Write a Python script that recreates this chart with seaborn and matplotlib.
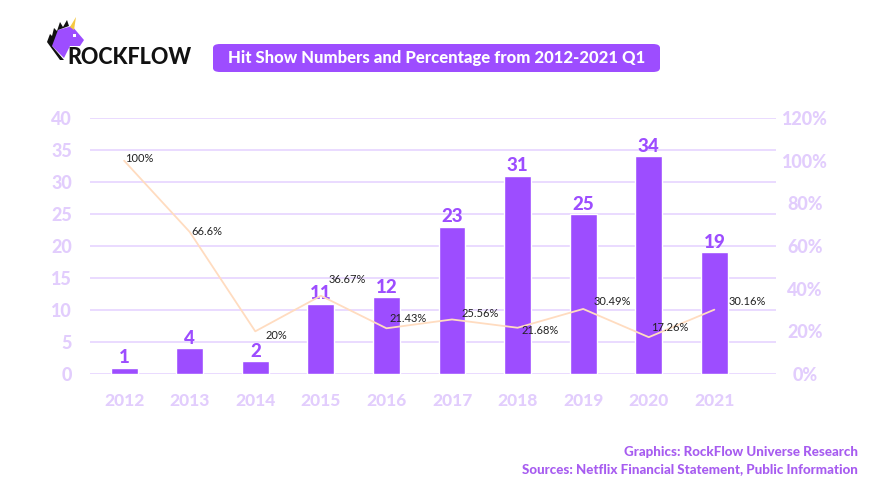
import matplotlib
matplotlib.use("Agg")
import matplotlib.pyplot as plt
from matplotlib.patches import FancyBboxPatch, Polygon
import seaborn as sns
import pandas as pd
import numpy as np

years = ["2012", "2013", "2014", "2015", "2016", "2017", "2018", "2019", "2020", "2021"]
hit_shows = [1, 4, 2, 11, 12, 23, 31, 25, 34, 19]
hit_pct = [100, 66.6, 20, 36.67, 21.43, 25.56, 21.68, 30.49, 17.26, 30.16]
pct_labels = ["100%", "66.6%", "20%", "36.67%", "21.43%", "25.56%", "21.68%", "30.49%", "17.26%", "30.16%"]
left_ticks = [0, 5, 10, 15, 20, 25, 30, 35, 40]
right_ticks = [0, 20, 40, 60, 80, 100, 120]

# label placement offsets (pixels) for the percentage annotations
pct_dx = [1, 2, 10, 8, 3, 9, 4, 10, 2, 14]
pct_dy = [2, 0, -4, 16, 10, 6, -3, 7, 10, 8]

PURPLE = "#9d4dff"
LIGHT = "#e2cdfd"
GRID = "#e6d4ff"
PEACH = "#ffdcc0"
FOOT = "#a75cf0"
HEAVY = 900

sns.set_theme(style="white")
plt.rcParams["font.family"] = ["Lato", "DejaVu Sans"]

df = pd.DataFrame({"year": years, "hits": hit_shows, "pct": hit_pct})

fig = plt.figure(figsize=(8.75, 4.93), dpi=100)
W, H = 875, 493
ax = fig.add_axes([90 / W, (H - 374) / H, (776 - 90) / W, (374 - 118) / H])

sns.barplot(data=df, x="year", y="hits", color=PURPLE, width=0.41, ax=ax,
            saturation=1, zorder=3)
ax.set_ylim(0, 40)
ax.set_xlim(-0.52, 9.94)
ax.set_yticks(left_ticks)
ax.yaxis.grid(True, color=GRID, linewidth=1.2, zorder=0)
ax.xaxis.grid(False)
for s in ax.spines.values():
    s.set_visible(False)
ax.set_xlabel("")
ax.set_ylabel("")
ax.tick_params(axis="y", length=0, pad=13, labelsize=13, labelcolor=LIGHT)
ax.tick_params(axis="x", length=0, pad=14, labelsize=12.5, labelcolor=LIGHT)
for lab in ax.get_yticklabels() + ax.get_xticklabels():
    lab.set_fontweight(HEAVY)

for i, v in enumerate(hit_shows):
    ax.annotate(str(v), (i, v), xytext=(0, 1), textcoords="offset points",
                ha="center", va="bottom", color=PURPLE, fontsize=13.5,
                fontweight=HEAVY, zorder=5)

ax2 = ax.twinx()
sns.lineplot(x=np.arange(len(years)), y=hit_pct, ax=ax2, color=PEACH,
             linewidth=1.3, zorder=4)
ax2.set_ylim(0, 120)
ax2.set_yticks(right_ticks)
ax2.set_yticklabels([f"{t}%" for t in right_ticks])
for s in ax2.spines.values():
    s.set_visible(False)
ax2.grid(False)
ax2.tick_params(axis="y", length=0, pad=21, labelsize=13, labelcolor=LIGHT)
for lab in ax2.get_yticklabels():
    lab.set_fontweight(HEAVY)
    lab.set_horizontalalignment("center")

for i, (v, t) in enumerate(zip(hit_pct, pct_labels)):
    ax2.annotate(t, (i, v), xytext=(pct_dx[i], pct_dy[i]), textcoords="offset pixels",
                 ha="left", va="center", fontsize=8, color="#222222", zorder=6)

# Title box
bx0, bx1, by0, by1 = 213, 660, 44, 72
box = FancyBboxPatch((bx0 / W, 1 - by1 / H), (bx1 - bx0) / W, (by1 - by0) / H,
                     boxstyle="round,pad=0,rounding_size=0.008",
                     transform=fig.transFigure, facecolor=PURPLE,
                     edgecolor="none")
fig.patches.append(box)
fig.text((bx0 + bx1) / 2 / W, 1 - 58 / H,
         "Hit Show Numbers and Percentage from 2012-2021 Q1",
         ha="center", va="center", color="white", fontsize=12,
         fontweight=HEAVY)

# Logo
fig.text(67 / W, 1 - 58 / H, "ROCKFLOW", ha="left", va="center",
         fontsize=15.5, fontweight=HEAVY, color="#111111")
head = Polygon([(58 / W, 1 - 30 / H), (72 / W, 1 - 26 / H), (84 / W, 1 - 40 / H),
                (80 / W, 1 - 46 / H), (70 / W, 1 - 46 / H), (64 / W, 1 - 58 / H),
                (50 / W, 1 - 44 / H)],
               closed=True, transform=fig.transFigure, facecolor=PURPLE,
               edgecolor="none")
fig.patches.append(head)
mane = Polygon([(47 / W, 1 - 42 / H), (50 / W, 1 - 34 / H), (52 / W, 1 - 36 / H),
                (54 / W, 1 - 28 / H), (57 / W, 1 - 31 / H), (60 / W, 1 - 22 / H),
                (63 / W, 1 - 27 / H), (67 / W, 1 - 20 / H), (69 / W, 1 - 26 / H),
                (58 / W, 1 - 30 / H), (52 / W, 1 - 46 / H), (64 / W, 1 - 60 / H),
                (60 / W, 1 - 60 / H)],
               closed=True, transform=fig.transFigure, facecolor="#111111",
               edgecolor="none")
fig.patches.append(mane)
horn = Polygon([(70 / W, 1 - 27 / H), (76 / W, 1 - 17 / H), (74 / W, 1 - 30 / H)],
               closed=True, transform=fig.transFigure, facecolor="#f5c842",
               edgecolor="none")
fig.patches.append(horn)
fig.patches.append(Polygon([(73 / W, 1 - 34 / H), (76 / W, 1 - 34 / H),
                            (76 / W, 1 - 37 / H), (73 / W, 1 - 37 / H)],
                           closed=True, transform=fig.transFigure,
                           facecolor="white", edgecolor="none"))

# Footer
fig.text(858 / W, 1 - 452 / H, "Graphics: RockFlow Universe Research",
         ha="right", va="center", color=FOOT, fontsize=9.6, fontweight=HEAVY)
fig.text(858 / W, 1 - 469 / H, "Sources: Netflix Financial Statement, Public Information",
         ha="right", va="center", color=FOOT, fontsize=9.6, fontweight=HEAVY)

fig.savefig("out.png", dpi=100, facecolor="white")
